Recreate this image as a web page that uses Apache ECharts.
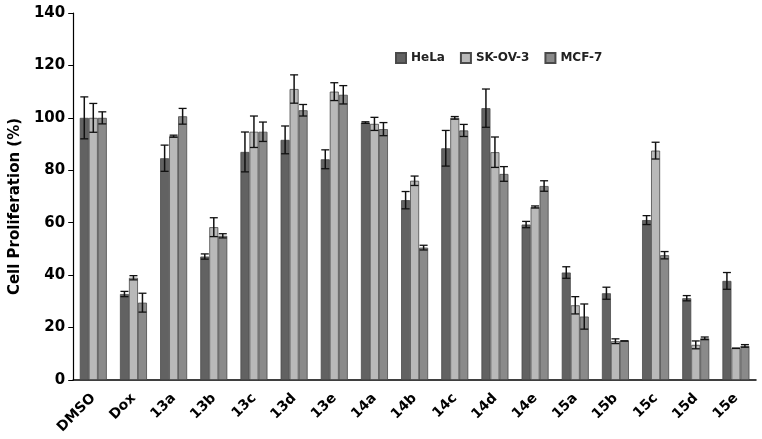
<!DOCTYPE html>
<html><head><meta charset="utf-8">
<script src="https://cdn.jsdelivr.net/npm/echarts@6/dist/echarts.min.js"></script>
<style>html,body{margin:0;padding:0;background:#fff}#c{width:762px;height:439px}</style>
</head><body><div id="c"></div>
<script>
const categories = ['DMSO','Dox','13a','13b','13c','13d','13e','14a','14b','14c','14d','14e','15a','15b','15c','15d','15e'];
const seriesNames = ['HeLa','SK-OV-3','MCF-7'];
const helaVals = [100, 32.8, 84.6, 47.1, 87, 91.6, 84.2, 98.2, 68.6, 88.4, 103.7, 59.3, 41, 33.1, 61, 31.2, 37.8];
const helaErr  = [8, 1, 5, 1, 7.6, 5.3, 3.6, 0.3, 3.3, 6.8, 7.3, 1.2, 2.2, 2.3, 1.7, 1, 3.2];
const skovVals = [100, 39, 93, 58.3, 94.7, 111, 110, 97.7, 76, 100, 86.9, 66, 28.5, 14.8, 87.5, 13.4, 12.1];
const skovErr  = [5.5, 0.8, 0.4, 3.6, 6, 5.4, 3.4, 2.5, 1.8, 0.5, 5.8, 0.4, 3.3, 0.9, 3.2, 1.5, 0];
const mcfVals  = [100, 29.5, 100.6, 55, 94.7, 102.9, 108.8, 95.7, 50.5, 95.2, 78.6, 74, 24.2, 14.9, 47.6, 15.9, 13];
const mcfErr   = [2.3, 3.6, 3, 0.8, 3.7, 2.2, 3.5, 2.5, 0.9, 2.3, 2.8, 2, 4.8, 0, 1.4, 0.5, 0.5];
const yTicks = [0, 20, 40, 60, 80, 100, 120, 140];

const colors = ['#626262', '#b9b9b9', '#8a8a8a'];
const vals = [helaVals, skovVals, mcfVals];
const errs = [helaErr, skovErr, mcfErr];
const BW = 9;
const FONT = 'DejaVu Sans';

const chart = echarts.init(document.getElementById('c'));
const series = [];
seriesNames.forEach((n, i) => {
  series.push({
    name: n, type: 'bar', data: vals[i], barWidth: BW, barGap: '0%', barCategoryGap: '33%',
    itemStyle: { color: colors[i], borderColor: '#4a4a4a', borderWidth: 0.8 },
    z: 2
  });
});
seriesNames.forEach((n, i) => {
  series.push({
    type: 'custom', silent: true, z: 5,
    data: vals[i].map((v, k) => [k, v, errs[i][k]]),
    renderItem: function (params, api) {
      const k = api.value(0), v = api.value(1), e = api.value(2);
      const top = api.coord([k, v + e]);
      const bot = api.coord([k, v - e]);
      const x = top[0] + (i - 1) * BW;
      const cw = 4;
      return {
        type: 'group',
        children: [
          { type: 'line', shape: { x1: x, y1: top[1], x2: x, y2: bot[1] }, style: { stroke: '#111', lineWidth: 1.5 } },
          { type: 'line', shape: { x1: x - cw, y1: top[1], x2: x + cw, y2: top[1] }, style: { stroke: '#111', lineWidth: 1.3 } },
          { type: 'line', shape: { x1: x - cw, y1: bot[1], x2: x + cw, y2: bot[1] }, style: { stroke: '#111', lineWidth: 1.3 } }
        ]
      };
    }
  });
});

chart.setOption({
  animation: false,
  backgroundColor: '#fff',
  legend: {
    data: seriesNames, left: 390, top: 47, itemWidth: 10, itemHeight: 10, itemGap: 15,
    textStyle: { fontFamily: FONT, fontWeight: 'bold', fontSize: 12, color: '#222' },
    icon: 'rect'
  },
  grid: { left: 71, right: 6, top: 13, bottom: 59, containLabel: false },
  xAxis: {
    type: 'category', data: categories,
    axisLine: { lineStyle: { color: '#000', width: 1.5 } },
    axisTick: { show: false },
    axisLabel: { rotate: 45, fontFamily: FONT, fontWeight: 'bold', fontSize: 14, color: '#000', margin: 16, interval: 0 }
  },
  yAxis: {
    type: 'value', min: 0, max: 140, interval: 20,
    name: 'Cell Proliferation (%)', nameLocation: 'middle', nameGap: 40,
    nameTextStyle: { fontFamily: FONT, fontWeight: 'bold', fontSize: 15, color: '#000', padding: [0, 20, 0, 0] },
    axisLine: { show: true, lineStyle: { color: '#000', width: 1.2 } },
    axisTick: { show: true, length: 5, lineStyle: { color: '#000' } },
    splitLine: { show: false },
    axisLabel: { fontFamily: FONT, fontWeight: 'bold', fontSize: 15, color: '#000', margin: 8,
      customValues: yTicks }
  },
  series: series
});
</script></body></html>
